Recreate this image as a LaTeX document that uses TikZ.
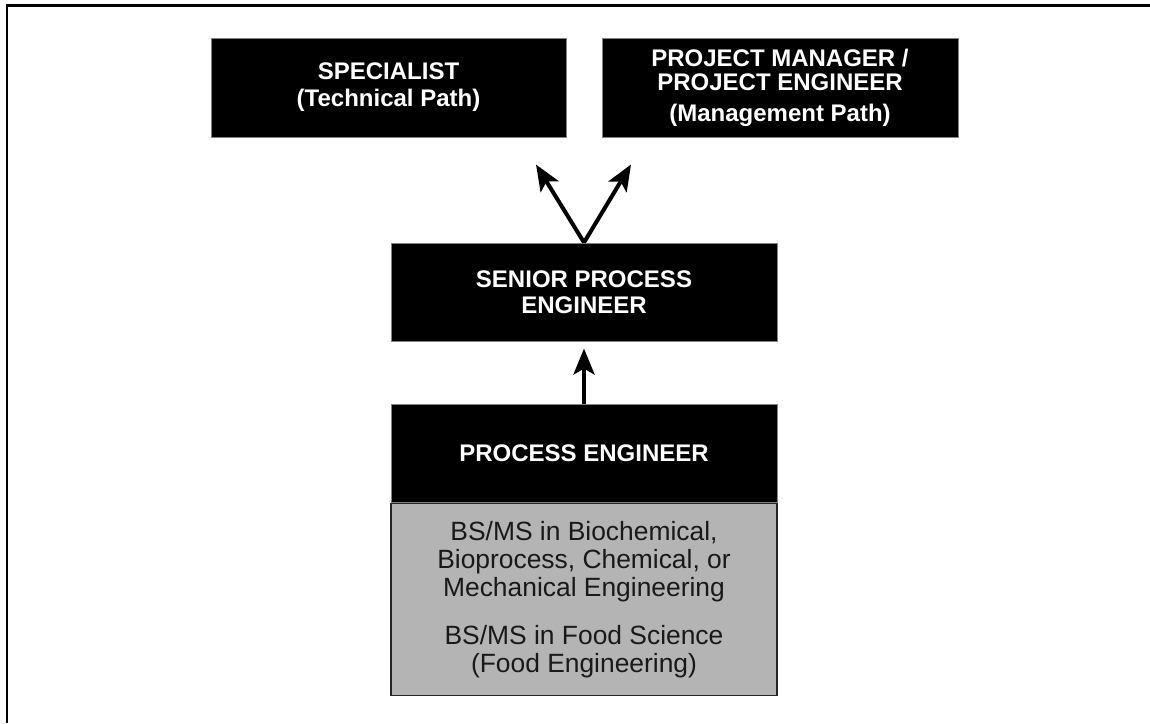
\documentclass[tikz,border=0pt]{standalone}
\usepackage{fontspec}
\setmainfont{Liberation Sans}
\usepackage{tikz}
\usetikzlibrary{positioning,arrows.meta,calc}
\definecolor{degreegray}{RGB}{180,180,180}
\definecolor{edgegray}{RGB}{130,130,130}

\begin{document}
\begin{tikzpicture}[
  x=0.5pt, y=0.5pt,
  node distance=31pt and 17.5pt,
  every node/.style={font=\fontsize{12pt}{13.5pt}\selectfont\bfseries},
  rolebox/.style={rectangle, draw=edgegray, line width=0.5pt, fill=black, text=white,
                  minimum width=193pt, minimum height=49pt, inner sep=0pt, align=center},
  degreebox/.style={rectangle, draw=black!85, line width=0.8pt, fill=degreegray, text=black!90,
                    font=\fontsize{13.2pt}{14pt}\selectfont,
                    minimum width=193pt, minimum height=96pt, inner sep=0pt, align=center},
  careerarrow/.style={-{Stealth[length=13pt, width=10.5pt, inset=3pt]}, line width=2pt}
]
  \useasboundingbox (0,0) rectangle (1150,-723);
  \draw[line width=1.4pt] (7,-723) -- (7,-5.5) -- (1150,-5.5);

  \node[rolebox, minimum width=177.5pt, minimum height=49.5pt] (spec) at (388.5,-87.5)
       {SPECIALIST\\(Technical Path)};
  \node[rolebox, minimum width=178pt, minimum height=49.5pt, right=of spec] (pm)
       {PROJECT MANAGER /\\[-1.5pt]PROJECT ENGINEER\\[2pt](Management Path)};
  \node[rolebox, font=\fontsize{12pt}{13pt}\selectfont\bfseries] (senior) at (584,-292)
       {SENIOR PROCESS\\ENGINEER};
  \node[rolebox, below=of senior] (proc) {PROCESS ENGINEER};
  \node[degreebox, below=0pt of proc] (edu)
       {BS/MS in Biochemical,\\Bioprocess, Chemical, or\\Mechanical Engineering\\[10pt]
        BS/MS in Food Science\\(Food Engineering)};

  \coordinate (techtip) at ($(senior.north)+(-48,78)$);
  \coordinate (mgmttip) at ($(senior.north)+(47,78)$);
  \draw[careerarrow] (senior.north) -- (techtip);
  \draw[careerarrow] (senior.north) -- (mgmttip);
  \draw[careerarrow, shorten >=3.5pt] (proc.north) -- (senior.south);
\end{tikzpicture}
\end{document}
